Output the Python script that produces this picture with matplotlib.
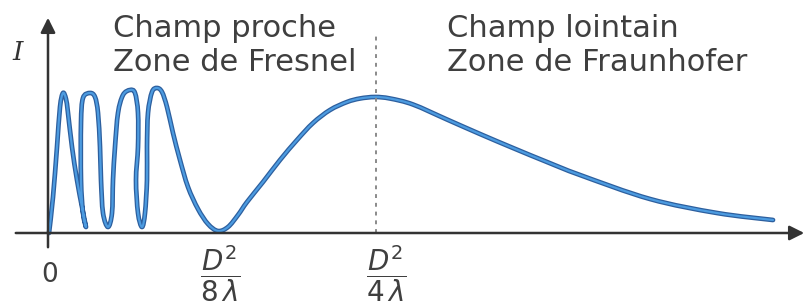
import matplotlib
matplotlib.use('Agg')
from matplotlib import pyplot as plt
from matplotlib.path import Path
from matplotlib.patches import PathPatch

# curve: distance along the axis, intensity
dist = [1, 5, 9, 12, 15, 18, 20, 24, 29, 34, 38,
        35, 33, 33, 35, 42, 47, 50, 52, 53, 55, 60,
        64, 65, 67, 70, 75, 82, 87, 90, 90, 88, 90, 94,
        97, 99, 99, 100, 104, 109, 114, 119, 125, 132, 140, 150, 160, 170,
        180, 190, 199, 215, 232, 249, 265, 282, 299, 312, 327, 342,
        365, 399, 432, 465, 499, 532, 602, 669, 725]
inten = [0, 36, 86, 126, 140, 134, 120, 86, 53, 26, 6,
         20, 53, 110, 135, 140, 136, 120, 86, 53, 20, 6,
         20, 53, 86, 120, 138, 143, 140, 120, 86, 53, 20, 6,
         20, 53, 86, 120, 141, 145, 141, 126, 100, 73, 46, 24, 9, 2,
         6, 18, 31, 51, 73, 93, 110, 123, 131, 134.5, 136, 134.5,
         128.5, 113.5, 99, 85, 71, 58, 34, 20, 13]

x_fresnel = 170   # D^2 / 8 lambda
x_fraun = 328     # D^2 / 4 lambda
tick_labels = [r'$\dfrac{D^2}{8\,\lambda}$', r'$\dfrac{D^2}{4\,\lambda}$']
near_text = ['Champ proche', 'Zone de Fresnel']
far_text = ['Champ lointain', 'Zone de Fraunhofer']


def smooth_path(xs, ys):
    # bezier segments through every point (catmull-rom tangents)
    n = len(xs)
    verts = [(xs[0], ys[0])]
    codes = [Path.MOVETO]
    for i in range(n - 1):
        a, b = max(i - 1, 0), min(i + 2, n - 1)
        c1 = (xs[i] + (xs[i + 1] - xs[a]) / 6, ys[i] + (ys[i + 1] - ys[a]) / 6)
        c2 = (xs[i + 1] - (xs[b] - xs[i]) / 6, ys[i + 1] - (ys[b] - ys[i]) / 6)
        verts += [c1, c2, (xs[i + 1], ys[i + 1])]
        codes += [Path.CURVE4] * 3
    return Path(verts, codes)


plt.rcParams['mathtext.fontset'] = 'dejavusans'
fig = plt.figure(figsize=(8.07, 3.06), dpi=100)
ax = fig.add_axes([0, 0, 1, 1])
ax.set_xlim(-48, 759)
ax.set_ylim(-73, 233)
ax.axis('off')

axis_col = '#333333'
ax.annotate('', xy=(759, 0), xytext=(-35, 0),
            arrowprops=dict(arrowstyle='-|>', mutation_scale=22, lw=1.8, color=axis_col))
ax.annotate('', xy=(0, 218), xytext=(0, -17),
            arrowprops=dict(arrowstyle='-|>', mutation_scale=22, lw=1.8, color=axis_col))

ax.plot([x_fraun, x_fraun], [0, 198], color='#8a8a8a', lw=1.4, ls=(0, (2, 2.5)))

curve = smooth_path(dist, inten)
ax.add_patch(PathPatch(curve, fill=False, edgecolor='#2d5f9e', lw=3.4,
                       joinstyle='round', capstyle='round'))
ax.add_patch(PathPatch(curve, fill=False, edgecolor='#4c9be0', lw=1.6,
                       joinstyle='round', capstyle='round'))

txt_col = '#3f3f3f'
ax.text(65, 196, near_text[0], fontsize=22, color=txt_col, va='baseline')
ax.text(65, 162, near_text[1], fontsize=22, color=txt_col, va='baseline')
ax.text(399, 196, far_text[0], fontsize=22, color=txt_col, va='baseline')
ax.text(399, 162, far_text[1], fontsize=22, color=txt_col, va='baseline')

ax.text(-30, 181, 'I', fontsize=19, family='DejaVu Serif', style='italic',
        color=axis_col, ha='center', va='center')
ax.text(2, -42, '0', fontsize=19, color=txt_col, ha='center', va='center')
ax.text(x_fresnel + 2, -41, tick_labels[0], fontsize=20, color=txt_col, ha='center', va='center')
ax.text(x_fraun + 10, -41, tick_labels[1], fontsize=20, color=txt_col, ha='center', va='center')

fig.savefig('out.png', dpi=100, facecolor='white')
